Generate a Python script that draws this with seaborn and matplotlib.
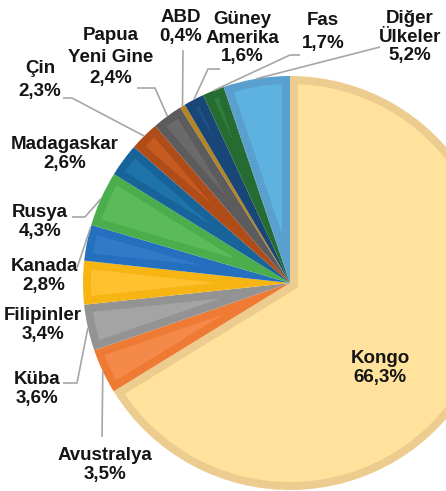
import numpy as np
import matplotlib
matplotlib.use("Agg")
import matplotlib.pyplot as plt
from matplotlib.patches import Polygon
import seaborn as sns

# data (clockwise from 12 o'clock)
countries = ["Kongo", "Avustralya", "Küba", "Filipinler", "Kanada", "Rusya",
             "Madagaskar", "Çin", "Papua\nYeni Gine", "ABD", "Güney\nAmerika",
             "Fas", "Diğer\nÜlkeler"]
shares = [66.3, 3.5, 3.6, 3.4, 2.8, 4.3, 2.6, 2.3, 2.4, 0.4, 1.6, 1.7, 5.2]
pct_labels = ["66,3%", "3,5%", "3,6%", "3,4%", "2,8%", "4,3%", "2,6%", "2,3%",
              "2,4%", "0,4%", "1,6%", "1,7%", "5,2%"]

# colours: inner face / darker bevel band
face_colors = ["#FFE29C", "#F5894A", "#A4A4A4", "#FFC12E", "#2F7BC8", "#5BBB5B",
               "#1E74A8", "#C65B22", "#6A6A6A", "#C9982F", "#1D5289", "#2E7D3B",
               "#5DB2E0"]
band_colors = ["#EDCD8F", "#EE7A33", "#939393", "#F7B514", "#2470BE", "#4AAE4C",
               "#17649A", "#B04C18", "#5C5C5C", "#B58423", "#174677", "#266C32",
               "#5AA0CE"]

W, H = 446, 491
CX, CY, R = 290, 283, 207   # pie centre / radius in pixels (y from top)
BAND = 8

def px(x, y):
    return x, H - y

# label layout in pixels: (x centre, y centre, linespacing)
label_pos = {
    "Kongo": (380, 368, 1.15),
    "Avustralya": (105, 465, 1.1),
    "Küba": (37, 389, 1.2),
    "Filipinler": (43, 325, 1.1),
    "Kanada": (44, 276, 1.2),
    "Rusya": (40, 222, 1.15),
    "Madagaskar": (65, 154, 1.2),
    "Çin": (40, 80, 1.45),
    "Papua\nYeni Gine": (111, 57, 1.35),
    "ABD": (181, 27, 1.2),
    "Güney\nAmerika": (242, 38, 1.15),
    "Fas": (323, 32, 1.4),
    "Diğer\nÜlkeler": (410, 37, 1.1),
}
# leader lines: points near the label, then the wedge edge (fraction of wedge)
leaders = {
    "Avustralya": ([(102, 437)], 0.5),
    "Küba": ([(63, 383), (77, 383)], 0.5),
    "Kanada": ([(77, 268)], 0.07),
    "Rusya": ([(72, 217), (85, 217)], 0.5),
    "Çin": ([(63, 98), (72, 98)], 0.5),
    "Papua\nYeni Gine": ([(137, 88), (155, 88)], 0.5),
    "ABD": ([(183, 50)], 0.5),
    "Güney\nAmerika": ([(220, 69), (208, 69)], 0.5),
    "Fas": ([(300, 55), (290, 55)], 0.5),
    "Diğer\nÜlkeler": ([(380, 47)], 0.5),
}

sns.set_theme(style="white")
plt.rcParams["font.family"] = ["Liberation Sans", "DejaVu Sans"]

fig = plt.figure(figsize=(W / 100, H / 100), dpi=100)
ax = fig.add_axes([0, 0, 1, 1])

wedges, _ = ax.pie(shares, colors=band_colors, startangle=90, counterclock=False,
                   radius=R, center=px(CX, CY), wedgeprops=dict(linewidth=0))

# lighter inner part of every wedge (bevel look)
cx, cy = px(CX, CY)
for w, fc in zip(wedges, face_colors):
    t1, t2 = np.deg2rad(w.theta1), np.deg2rad(w.theta2)
    half = (t2 - t1) / 2
    apex = BAND / np.sin(half)
    rho = R - BAND
    if apex >= rho * 0.9:
        continue
    off = np.arcsin(BAND / rho)
    arc = np.linspace(t1 + off, t2 - off, 200)
    mid = (t1 + t2) / 2
    pts = [(cx + apex * np.cos(mid), cy + apex * np.sin(mid))]
    pts += list(zip(cx + rho * np.cos(arc), cy + rho * np.sin(arc)))
    ax.add_patch(Polygon(pts, closed=True, facecolor=fc, linewidth=0))

for w, name, pct in zip(wedges, countries, pct_labels):
    x, y, ls = label_pos[name]
    ax.text(*px(x, y), f"{name}\n{pct}", ha="center", va="center",
            fontsize=13.5, fontweight="bold", color="#151515", linespacing=ls)
    if name in leaders:
        pts, frac = leaders[name]
        ang = np.deg2rad(w.theta1 + frac * (w.theta2 - w.theta1))
        ex = cx + R * np.cos(ang)
        ey = cy + R * np.sin(ang)
        xs = [p[0] for p in pts] + [ex]
        ys = [H - p[1] for p in pts] + [ey]
        ax.plot(xs, ys, color="#A6A6A6", linewidth=1.2, solid_capstyle="butt")

ax.set_xlim(0, W)
ax.set_ylim(0, H)
ax.set_aspect("equal")
ax.axis("off")

fig.savefig("out.png", dpi=100)
